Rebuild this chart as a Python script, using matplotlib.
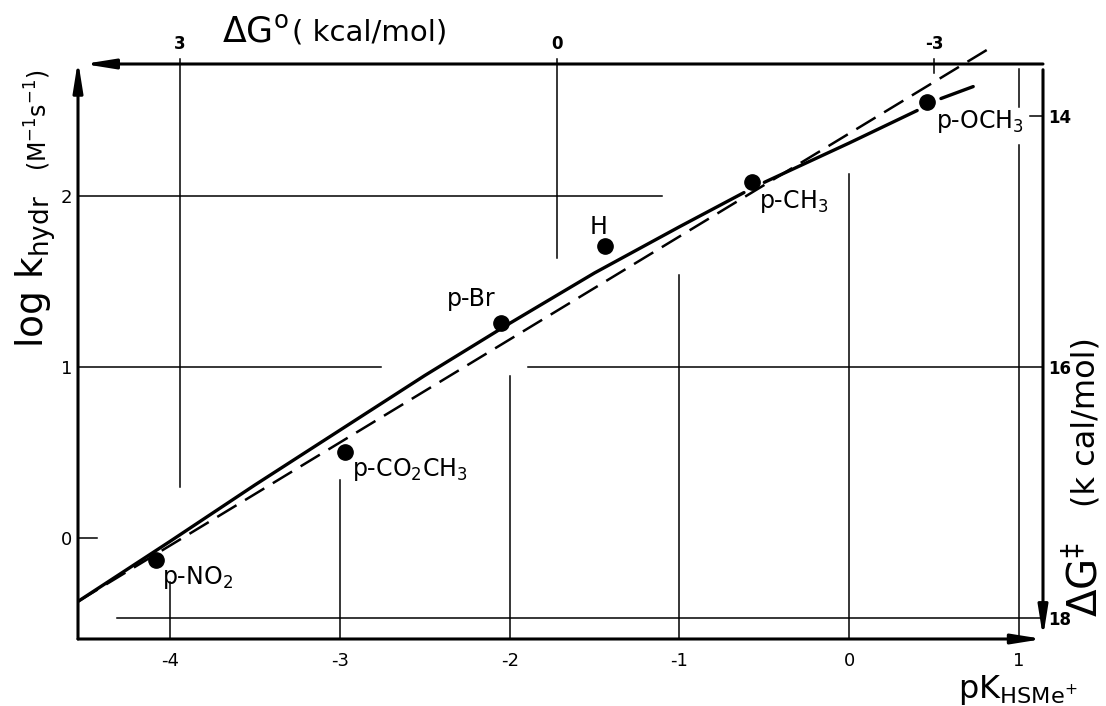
import matplotlib
matplotlib.use("Agg")
import matplotlib.pyplot as plt

plt.rcParams['font.family'] = ['DejaVu Sans']
plt.rcParams['mathtext.default'] = 'regular'
plt.rcParams['axes.unicode_minus'] = False

# ---------------- data ----------------
substituents = ["p-NO$_2$", "p-CO$_2$CH$_3$", "p-Br", "H", "p-CH$_3$", "p-OCH$_3$"]
pK_values = [-4.08, -2.97, -2.05, -1.44, -0.57, 0.46]
logk_values = [-0.13, 0.50, 1.26, 1.71, 2.08, 2.55]

# solid Bronsted curve, three pieces (gaps at the dots)
curve1_pK = [-4.54, -4.0, -3.5, -3.0, -2.5, -2.0, -1.5, -1.0, -0.62]
curve1_logk = [-0.37, -0.02, 0.31, 0.63, 0.95, 1.255, 1.55, 1.82, 2.02]
curve2_pK = [-0.50, 0.0, 0.40]
curve2_logk = [2.08, 2.31, 2.50]
curve3_pK = [0.54, 0.73]
curve3_logk = [2.57, 2.64]

# dashed straight line
dashed_pK = [-4.54, 0.82]
dashed_logk = [-0.37, 2.86]

bottom_ticks = [-4, -3, -2, -1, 0, 1]
bottom_labels = ["-4", "-3", "-2", "-1", "0", "1"]
left_ticks = [0, 1, 2]
left_labels = ["0", "1", "2"]
top_ticks = [3, 0, -3]
top_labels = ["3", "0", "-3"]
right_ticks = [14, 16, 18]
right_labels = ["14", "16", "18"]

# conversions for the secondary scales
PK0 = -1.721      # pK where dG0 = 0
S_TOP = 1.35      # kcal/mol per pK unit
S_RIGHT = 1.364   # kcal/mol per log unit
DG_REF = 16.0     # dG# at log k = 1


def pk_to_dg0(x):
    return -(x - PK0) * S_TOP


def dg0_to_pk(g):
    return PK0 - g / S_TOP


def logk_to_dgts(y):
    return DG_REF - (y - 1.0) * S_RIGHT


def dgts_to_logk(g):
    return 1.0 + (DG_REF - g) / S_RIGHT


# ---------------- figure ----------------
W, H = 1106, 706
fig = plt.figure(figsize=(W / 100, H / 100), dpi=100)
ax = fig.add_axes([78 / W, 1 - 639 / H, (1043 - 78) / W, (639 - 64) / H])
XMIN, XMAX = -4.542, 1.141
YMIN, YMAX = -0.591, 2.772
ax.set_xlim(XMIN, XMAX)
ax.set_ylim(YMIN, YMAX)
for s in ax.spines.values():
    s.set_visible(False)

ax.set_xticks(bottom_ticks)
ax.set_xticklabels(bottom_labels)
ax.set_yticks(left_ticks)
ax.set_yticklabels(left_labels)
ax.tick_params(axis='x', length=0, pad=9, labelsize=13)
ax.tick_params(axis='y', length=0, pad=4, labelsize=13)

top = ax.secondary_xaxis('top', functions=(pk_to_dg0, dg0_to_pk))
top.set_xticks(top_ticks)
top.set_xticklabels(top_labels, fontweight='bold')
top.tick_params(length=0, pad=8, labelsize=12)
for s in top.spines.values():
    s.set_visible(False)

right = ax.secondary_yaxis('right', functions=(logk_to_dgts, dgts_to_logk))
right.set_yticks(right_ticks)
right.set_yticklabels(right_labels, fontweight='bold')
right.tick_params(length=0, pad=4, labelsize=12)
for s in right.spines.values():
    s.set_visible(False)

# ---- partial grid lines (hand-drawn style) ----
glw = 1.1
bottom_line_tops = [-0.26, 0.34, 0.95, 1.54, 2.13, 2.30]
for xv, yt in zip(bottom_ticks, bottom_line_tops):
    ax.plot([xv, xv], [YMIN, yt], color='k', lw=glw)
ax.plot([1, 1], [2.52, 2.74], color='k', lw=glw)

top_line_bottoms = [0.30, 1.64, 2.72]
for g, yb in zip(top_ticks, top_line_bottoms):
    xv = dg0_to_pk(g)
    ax.plot([xv, xv], [yb, YMAX + 0.03], color='k', lw=glw, clip_on=False)

ax.plot([XMIN, -1.10], [2, 2], color='k', lw=glw)
ax.plot([XMIN, -2.757], [1, 1], color='k', lw=glw)
ax.plot([-1.89, XMAX], [1, 1], color='k', lw=glw)
ax.plot([XMIN, -4.43], [0, 0], color='k', lw=glw)
ax.plot([-4.31, XMAX], [dgts_to_logk(18)] * 2, color='k', lw=glw)
ax.plot([1.065, XMAX], [dgts_to_logk(14)] * 2, color='k', lw=glw)

# ---- axes with arrows ----
alw = 2.2
arrow = dict(arrowstyle='-|>,head_length=1.0,head_width=0.16', lw=alw, color='k',
             shrinkA=0, shrinkB=0, mutation_scale=18)
# left (up)
ax.annotate("", xy=(0, 1.006), xytext=(0, 0), xycoords='axes fraction',
            arrowprops=arrow, annotation_clip=False)
# top (pointing left)
ax.annotate("", xy=(0.006, 1.0), xytext=(1.0, 1.0), xycoords='axes fraction',
            arrowprops=arrow, annotation_clip=False)
# bottom (pointing right)
ax.annotate("", xy=(1.0, 0.0), xytext=(0, 0), xycoords='axes fraction',
            arrowprops=arrow, annotation_clip=False)
# right (pointing down)
ax.annotate("", xy=(1.0, 0.003), xytext=(1.0, 0.99), xycoords='axes fraction',
            arrowprops=arrow, annotation_clip=False)

# ---- curves ----
ax.plot(dashed_pK, dashed_logk, color='k', lw=1.8, ls=(0, (9, 4)), clip_on=False)
for cx, cy in ((curve1_pK, curve1_logk), (curve2_pK, curve2_logk), (curve3_pK, curve3_logk)):
    ax.plot(cx, cy, color='k', lw=2.4, solid_capstyle='round')

# ---- points ----
ax.plot(pK_values, logk_values, 'o', color='k', ms=11, zorder=5)

label_offsets = [(6, -4), (7, -4), (-30, 24), (-6, 19), (7, -6), (9, -6)]
label_align = [('left', 'top'), ('left', 'top'), ('center', 'center'),
               ('center', 'center'), ('left', 'top'), ('left', 'top')]
for name, x, y, off, (ha, va) in zip(substituents, pK_values, logk_values,
                                     label_offsets, label_align):
    ax.annotate(name, (x, y), xytext=off, textcoords='offset pixels',
                ha=ha, va=va, fontsize=17)

# ---- axis titles ----
def fxy(px, py):
    return px / W, 1 - py / H


fig.text(*fxy(222, 42), r"$\Delta$G$^{o}$", fontsize=25, ha='left', va='baseline')
fig.text(*fxy(292, 40), "( kcal/mol)", fontsize=21, ha='left', va='baseline')

fig.text(*fxy(36, 272), r"log k$_{hydr}$", fontsize=27, rotation=90,
         ha='center', va='center')
fig.text(*fxy(38, 120), r"(M$^{-1}$s$^{-1}$)", fontsize=17, rotation=90,
         ha='center', va='center')

fig.text(*fxy(958, 698), r"pK$_{HSMe^{+}}$", fontsize=23, ha='left', va='baseline')

fig.text(*fxy(1086, 580), r"$\Delta$G$^{\ddag}$", fontsize=29,
         rotation=90, ha='center', va='center')
fig.text(*fxy(1086, 422), "(k cal/mol)", fontsize=23,
         rotation=90, ha='center', va='center')

fig.savefig("out.png", dpi=100)
